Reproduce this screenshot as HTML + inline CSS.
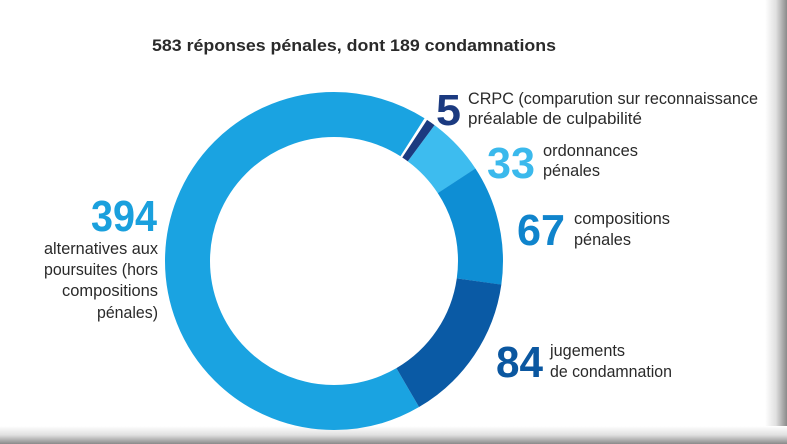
<!DOCTYPE html>
<html><head><meta charset="utf-8"><style>
html,body{margin:0;padding:0;background:#fff;}
body{width:787px;height:444px;overflow:hidden;position:relative;}
svg{position:absolute;left:0;top:0;}
text{font-family:"Liberation Sans",sans-serif;fill:#2a2a2a;}
.big{font-weight:bold;font-size:44px;}
.lbl{font-size:17px;}
</style></head><body>
<svg width="787" height="444" viewBox="0 0 787 444">
<defs>
<linearGradient id="gr" x1="0" x2="1" y1="0" y2="0"><stop offset="0" stop-color="#fff"/><stop offset="0.5" stop-color="#e0e0e0"/><stop offset="1" stop-color="#8a8a8a"/></linearGradient>
<linearGradient id="gb" x1="0" x2="0" y1="0" y2="1"><stop offset="0" stop-color="#fff"/><stop offset="0.5" stop-color="#e0e0e0"/><stop offset="1" stop-color="#8a8a8a"/></linearGradient>
</defs>
<rect x="0" y="0" width="787" height="444" fill="#fff"/>
<rect x="765" y="0" width="22" height="444" fill="url(#gr)"/>
<rect x="0" y="426" width="787" height="18" fill="url(#gb)"/>
<g transform="rotate(-90 334 261)" fill="none" stroke-width="45">
<circle cx="334" cy="261" r="146.5" stroke="#1aa3e1" stroke-dasharray="621 300" stroke-dashoffset="-382.8"/>
<circle cx="334" cy="261" r="146.5" stroke="#3dbcef" stroke-dasharray="52 900" stroke-dashoffset="-93.3"/>
<circle cx="334" cy="261" r="146.5" stroke="#0e8ed4" stroke-dasharray="105.5 900" stroke-dashoffset="-145.2"/>
<circle cx="334" cy="261" r="146.5" stroke="#0a5aa5" stroke-dasharray="132.2 900" stroke-dashoffset="-250.6"/>
<circle cx="334" cy="261" r="146.5" stroke="#1b3a80" stroke-dasharray="7.9 900" stroke-dashoffset="-85.4"/>
</g>
<text x="152" y="51" font-weight="bold" font-size="17" textLength="404" lengthAdjust="spacingAndGlyphs">583 réponses pénales, dont 189 condamnations</text>
<text class="big" x="436" y="125" style="fill:#1b3a80" textLength="25" lengthAdjust="spacingAndGlyphs">5</text>
<text class="lbl" x="468" y="104" textLength="290" lengthAdjust="spacingAndGlyphs">CRPC (comparution sur reconnaissance</text>
<text class="lbl" x="468" y="124">préalable de culpabilité</text>
<text class="big" x="487" y="178" style="fill:#3bb9ec" textLength="48" lengthAdjust="spacingAndGlyphs">33</text>
<text class="lbl" x="543" y="156" textLength="95" lengthAdjust="spacingAndGlyphs">ordonnances</text>
<text class="lbl" x="543" y="176" textLength="57" lengthAdjust="spacingAndGlyphs">pénales</text>
<text class="big" x="517" y="245" style="fill:#1084cc" textLength="48" lengthAdjust="spacingAndGlyphs">67</text>
<text class="lbl" x="574" y="224" textLength="96" lengthAdjust="spacingAndGlyphs">compositions</text>
<text class="lbl" x="574" y="245" textLength="57" lengthAdjust="spacingAndGlyphs">pénales</text>
<text class="big" x="496" y="377" style="fill:#0b57a0" textLength="47" lengthAdjust="spacingAndGlyphs">84</text>
<text class="lbl" x="550" y="356" textLength="75" lengthAdjust="spacingAndGlyphs">jugements</text>
<text class="lbl" x="550" y="377" textLength="122" lengthAdjust="spacingAndGlyphs">de condamnation</text>
<text class="big" x="91" y="231" style="fill:#1aa0dd" textLength="66" lengthAdjust="spacingAndGlyphs">394</text>
<text class="lbl" x="44" y="254" textLength="114" lengthAdjust="spacingAndGlyphs">alternatives aux</text>
<text class="lbl" x="44" y="275" textLength="114" lengthAdjust="spacingAndGlyphs">poursuites (hors</text>
<text class="lbl" x="62" y="296" textLength="96" lengthAdjust="spacingAndGlyphs">compositions</text>
<text class="lbl" x="97" y="318" textLength="61" lengthAdjust="spacingAndGlyphs">pénales)</text>
</svg>
</body></html>
